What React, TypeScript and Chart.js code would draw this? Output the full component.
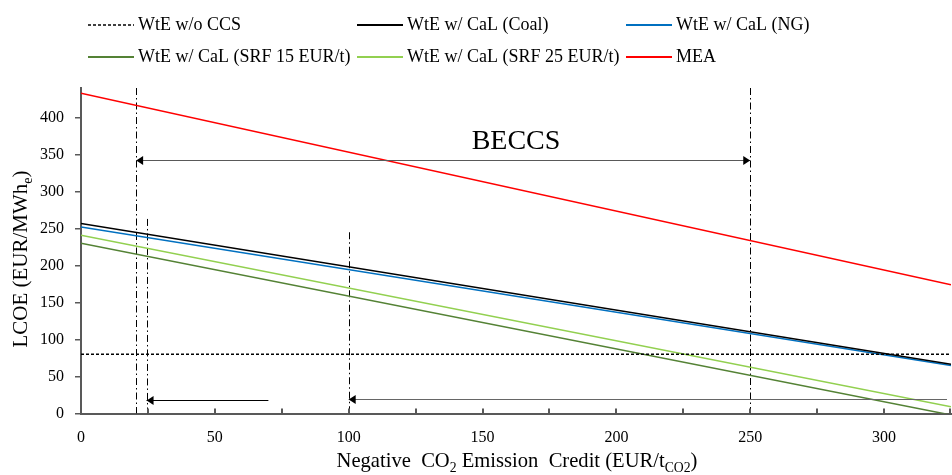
import React, { useEffect, useRef } from 'react';
import { Chart, registerables } from 'chart.js';

Chart.register(...registerables);

// ---------- data ----------
const xMin = 0;
const xMax = 325;
const xStep = 25;
const yMin = 0;
const yMax = 440;
const yStep = 50;

const seriesNames = [
  'WtE w/o CCS',
  'WtE w/ CaL (Coal)',
  'WtE w/ CaL (NG)',
  'WtE w/ CaL (SRF 15 EUR/t)',
  'WtE w/ CaL (SRF 25 EUR/t)',
  'MEA',
];
const creditX = [0, 325];
const wteNoCcs = [80, 80];
const calCoal = [257, 66.5];
const calNg = [252, 65];
const calSrf15 = [230, -2];
const calSrf25 = [241, 9];
const mea = [433, 174];
const seriesValues = [wteNoCcs, calCoal, calNg, calSrf15, calSrf25, mea];
const seriesColors = ['#000000', '#000000', '#0070C0', '#548235', '#92D050', '#FF0000'];
const seriesDash = [[3, 2], [], [], [], [], []];

// vertical dash-dot markers
const markerX = [20.6, 24.5, 100, 250];
const markerTop = [440, 263, 245, 440];

// horizontal arrows
const arrowFrom = [20.6, 70, 323.5];
const arrowTo = [250, 24.5, 100];
const arrowY = [342.5, 18, 19.5];
const arrowBoth = [true, false, false];
const arrowLineColor = ['#595959', '#000000', '#666666'];

const noteText = 'BECCS';
const noteX = 162.5;
const noteY = 357;

// ---------- styles ----------
const SERIF = '"Liberation Serif", "Times New Roman", serif';
const AXIS_COLOR = '#595959';

function drawArrowHead(ctx: CanvasRenderingContext2D, tipX: number, y: number, dir: number) {
  const len = 7;
  const half = 4.5;
  ctx.beginPath();
  ctx.moveTo(tipX, y);
  ctx.lineTo(tipX - dir * len, y - half);
  ctx.lineTo(tipX - dir * len, y + half);
  ctx.closePath();
  ctx.fill();
}

const annotationPlugin = {
  id: 'annotations',
  beforeDatasetsDraw(chart: any) {
    const { ctx, scales, chartArea } = chart;
    const xs = scales.x;
    const ys = scales.y;
    ctx.save();
    ctx.beginPath();
    ctx.rect(chartArea.left, chartArea.top - 1, chartArea.right - chartArea.left, chartArea.bottom - chartArea.top + 1);
    ctx.clip();
    ctx.strokeStyle = '#000000';
    ctx.lineWidth = 1;
    ctx.setLineDash([7, 3, 1.5, 3]);
    for (let i = 0; i < markerX.length; i++) {
      const px = Math.round(xs.getPixelForValue(markerX[i])) + 0.5;
      ctx.beginPath();
      ctx.moveTo(px, ys.getPixelForValue(markerTop[i]));
      ctx.lineTo(px, ys.getPixelForValue(yMin));
      ctx.stroke();
    }
    ctx.restore();
  },
  afterDatasetsDraw(chart: any) {
    const { ctx, scales } = chart;
    const xs = scales.x;
    const ys = scales.y;
    ctx.save();
    for (let i = 0; i < arrowFrom.length; i++) {
      const x1 = xs.getPixelForValue(arrowFrom[i]);
      const x2 = xs.getPixelForValue(arrowTo[i]);
      const py = Math.round(ys.getPixelForValue(arrowY[i])) + 0.5;
      ctx.strokeStyle = arrowLineColor[i];
      ctx.lineWidth = 1.2;
      ctx.setLineDash([]);
      ctx.beginPath();
      ctx.moveTo(x1, py);
      ctx.lineTo(x2, py);
      ctx.stroke();
      ctx.fillStyle = '#000000';
      const dir = x2 > x1 ? 1 : -1;
      drawArrowHead(ctx, x2, py, dir);
      if (arrowBoth[i]) drawArrowHead(ctx, x1, py, -dir);
    }
    ctx.fillStyle = '#000000';
    ctx.font = `28px ${SERIF}`;
    ctx.textAlign = 'center';
    ctx.textBaseline = 'alphabetic';
    ctx.fillText(noteText, xs.getPixelForValue(noteX), ys.getPixelForValue(noteY));
    ctx.restore();
  },
  afterDraw(chart: any) {
    const { ctx, scales, chartArea } = chart;
    const xs = scales.x;
    ctx.save();
    // inward x tick marks
    ctx.strokeStyle = AXIS_COLOR;
    ctx.lineWidth = 2;
    for (const t of xs.ticks) {
      const px = Math.min(Math.round(xs.getPixelForValue(t.value)), chartArea.right - 1);
      ctx.beginPath();
      ctx.moveTo(px, chartArea.bottom);
      ctx.lineTo(px, chartArea.bottom - 5);
      ctx.stroke();
    }

    // legend (custom, fixed columns)
    const colX = [88, 357, 626];
    const rowY = [25, 57];
    for (let i = 0; i < seriesNames.length; i++) {
      const cx = colX[i % 3];
      const cy = rowY[Math.floor(i / 3)];
      ctx.strokeStyle = seriesColors[i];
      ctx.lineWidth = i === 0 ? 1.5 : 2;
      ctx.setLineDash(i === 0 ? [3, 2] : []);
      ctx.beginPath();
      ctx.moveTo(cx, cy);
      ctx.lineTo(cx + 46, cy);
      ctx.stroke();
      ctx.setLineDash([]);
      ctx.fillStyle = '#000000';
      ctx.font = `18px ${SERIF}`;
      ctx.textAlign = 'left';
      ctx.textBaseline = 'middle';
      ctx.fillText(seriesNames[i], cx + 50, cy);
    }

    // axis titles with subscripts
    const mainSize = 21;
    const subSize = 14;
    const drawParts = (parts: [string, boolean][], cx: number, baseY: number, scaleX: number) => {
      let total = 0;
      for (const [t, sub] of parts) {
        ctx.font = `${sub ? subSize : mainSize}px ${SERIF}`;
        total += ctx.measureText(t).width;
      }
      ctx.save();
      ctx.translate(cx, baseY);
      ctx.scale(scaleX, 1);
      let x = -total / 2;
      ctx.fillStyle = '#000000';
      ctx.textAlign = 'left';
      ctx.textBaseline = 'alphabetic';
      for (const [t, sub] of parts) {
        ctx.font = `${sub ? subSize : mainSize}px ${SERIF}`;
        ctx.fillText(t, x, sub ? 5 : 0);
        x += ctx.measureText(t).width;
      }
      ctx.restore();
    };
    const xParts: [string, boolean][] = [
      ['Negative  CO', false],
      ['2', true],
      [' Emission  Credit (EUR/t', false],
      ['CO2', true],
      [')', false],
    ];
    drawParts(xParts, 517, 467, 0.98);

    const yParts: [string, boolean][] = [
      ['LCOE (EUR/MWh', false],
      ['e', true],
      [')', false],
    ];
    ctx.save();
    ctx.translate(27, 259);
    ctx.rotate(-Math.PI / 2);
    drawParts(yParts, 0, 0, 1);
    ctx.restore();

    ctx.restore();
  },
};

export default function App() {
  const canvasRef = useRef<HTMLCanvasElement | null>(null);

  useEffect(() => {
    if (!canvasRef.current) return;
    const datasets = seriesNames.map((name, i) => ({
      label: name,
      data: creditX.map((x, j) => ({ x, y: seriesValues[i][j] })),
      borderColor: seriesColors[i],
      backgroundColor: seriesColors[i],
      borderWidth: 1.5,
      borderDash: seriesDash[i],
      pointRadius: 0,
      fill: false,
      tension: 0,
    }));

    const chart = new Chart(canvasRef.current, {
      type: 'line',
      data: { datasets },
      plugins: [annotationPlugin],
      options: {
        animation: false,
        responsive: true,
        maintainAspectRatio: false,
        layout: { padding: { top: 88, right: 1, left: 0, bottom: 0 } },
        plugins: {
          legend: { display: false },
          tooltip: { enabled: false },
        },
        scales: {
          x: {
            type: 'linear',
            min: xMin,
            max: xMax,
            afterFit: (scale: any) => {
              scale.height = 61.5;
              scale.paddingLeft = 0;
              scale.paddingRight = 0;
            },
            ticks: {
              stepSize: xStep,
              autoSkip: false,
              maxRotation: 0,
              padding: 7,
              color: '#000000',
              font: { family: SERIF, size: 16 },
              callback: (v: any) => (Number(v) % 50 === 0 ? String(v) : ''),
            },
            grid: { display: false },
            border: { display: true, color: AXIS_COLOR, width: 2 },
          },
          y: {
            type: 'linear',
            min: yMin,
            max: yMax,
            afterFit: (scale: any) => {
              scale.width = 81;
              scale.paddingTop = 0;
              scale.paddingBottom = 0;
            },
            afterBuildTicks: (scale: any) => {
              scale.ticks = scale.ticks.filter((t: any) => t.value % yStep === 0);
            },
            ticks: {
              stepSize: yStep,
              padding: 11,
              color: '#000000',
              font: { family: SERIF, size: 16 },
            },
            grid: {
              display: true,
              drawOnChartArea: false,
              drawTicks: true,
              tickLength: 6,
              color: AXIS_COLOR,
              lineWidth: 1.5,
            },
            border: { display: true, color: AXIS_COLOR, width: 2 },
          },
        },
      },
    });
    return () => chart.destroy();
  }, []);

  return (
    <div style={{ position: 'fixed', left: 0, top: 0, width: 952, height: 475, background: '#ffffff' }}>
      <canvas ref={canvasRef} />
    </div>
  );
}
